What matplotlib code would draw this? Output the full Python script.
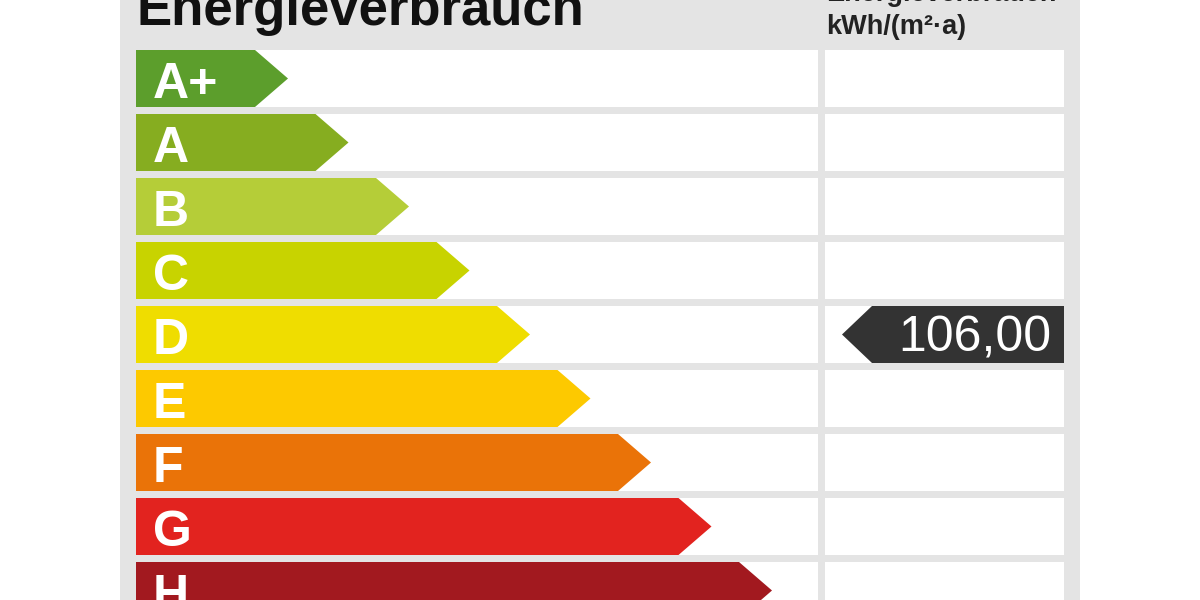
import matplotlib
matplotlib.use("Agg")
import matplotlib.pyplot as plt
from matplotlib.patches import Polygon, Rectangle

classes = ["A+", "A", "B", "C", "D", "E", "F", "G", "H"]
colors = ["#5c9e2c", "#86ad20", "#b5cd38", "#c8d300", "#efdd00",
          "#fdc900", "#ea7308", "#e2231f", "#a2191f"]
value_label = "106,00"
value_class = "D"
title = "Energieverbrauch"
unit_line1 = "Energieverbrauch"
unit_line2 = "kWh/(m²·a)"

fig = plt.figure(figsize=(12, 6), dpi=100)
fig.patch.set_facecolor("white")
ax = fig.add_axes([0, 0, 1, 1])
ax.set_xlim(0, 1200)
ax.set_ylim(600, 0)
ax.axis("off")

# gray panel
ax.add_patch(Rectangle((120, -10), 960, 620, facecolor="#e4e4e4", edgecolor="none"))

row_top0 = 50
pitch = 64
row_h = 57
bar_x0 = 136
tip0 = 288
tip_step = 60.5
depth = 33

for i, (c, col) in enumerate(zip(classes, colors)):
    y0 = row_top0 + i * pitch
    y1 = y0 + row_h
    ym = (y0 + y1) / 2
    # white rows
    ax.add_patch(Rectangle((bar_x0, y0), 818 - bar_x0, row_h, facecolor="white", edgecolor="none"))
    ax.add_patch(Rectangle((825, y0), 1064 - 825, row_h, facecolor="white", edgecolor="none"))
    tip = tip0 + i * tip_step
    ax.add_patch(Polygon([(bar_x0, y0), (tip - depth, y0), (tip, ym),
                          (tip - depth, y1), (bar_x0, y1)],
                         closed=True, facecolor=col, edgecolor="none"))
    ax.text(153, y0 + 48, c, color="white", fontsize=36, fontweight="bold",
            family="Liberation Sans", ha="left", va="baseline")
    if c == value_class:
        ax.add_patch(Polygon([(842, ym), (872, y0), (1064, y0), (1064, y1), (872, y1)],
                             closed=True, facecolor="#333333", edgecolor="none"))
        ax.text(1051, y0 + 46, value_label, color="white", fontsize=36,
                family="Liberation Sans", ha="right", va="baseline")

ax.text(136, 25, title, fontsize=38, fontweight="bold", family="Liberation Sans",
        color="#111111", ha="left", va="baseline")
ax.text(826, 1, unit_line1, fontsize=19.5, fontweight="bold", family="Liberation Sans",
        color="#222222", ha="left", va="baseline")
ax.text(826, 34, unit_line2, fontsize=19.5, fontweight="bold", family="Liberation Sans",
        color="#222222", ha="left", va="baseline")

fig.savefig("out.png", dpi=100)
